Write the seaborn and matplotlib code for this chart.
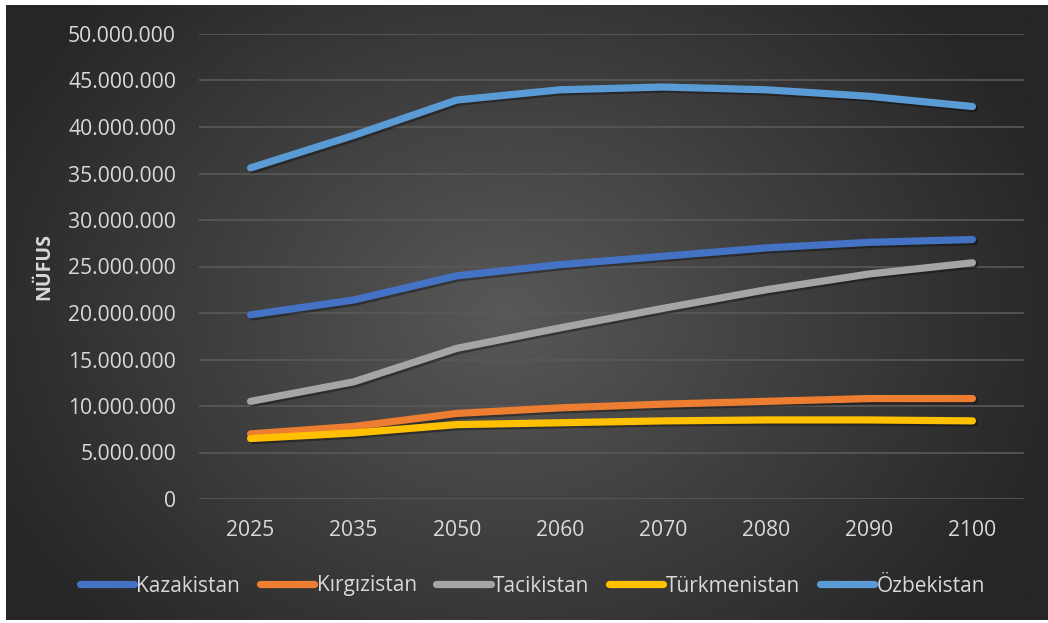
import numpy as np
import pandas as pd
import matplotlib
matplotlib.use("Agg")
import matplotlib.pyplot as plt
import matplotlib.patheffects as pe
from matplotlib.ticker import FuncFormatter
import seaborn as sns

years = ["2025", "2035", "2050", "2060", "2070", "2080", "2090", "2100"]
kazakistan = [19.8e6, 21.4e6, 24.0e6, 25.2e6, 26.1e6, 27.0e6, 27.6e6, 27.9e6]
kirgizistan = [7.0e6, 7.8e6, 9.2e6, 9.8e6, 10.2e6, 10.5e6, 10.8e6, 10.8e6]
tacikistan = [10.5e6, 12.6e6, 16.2e6, 18.4e6, 20.5e6, 22.5e6, 24.2e6, 25.4e6]
turkmenistan = [6.5e6, 7.1e6, 8.0e6, 8.2e6, 8.4e6, 8.5e6, 8.5e6, 8.4e6]
ozbekistan = [35.6e6, 39.1e6, 42.9e6, 44.0e6, 44.3e6, 44.0e6, 43.3e6, 42.2e6]
countries = ["Kazakistan", "Kırgızistan", "Tacikistan", "Türkmenistan", "Özbekistan"]
colors = ["#4472C4", "#ED7D31", "#A5A5A5", "#FFC000", "#5B9BD5"]
y_label = "NÜFUS"

series = [kazakistan, kirgizistan, tacikistan, turkmenistan, ozbekistan]
rows = []
for c, vals in zip(countries, series):
    for i, (yr, v) in enumerate(zip(years, vals)):
        rows.append({"idx": i, "year": yr, "country": c, "value": v})
df = pd.DataFrame(rows)

sns.set_theme(style="white")
plt.rcParams["font.family"] = ["Open Sans", "DejaVu Sans"]

W, H = 1048, 623
fig = plt.figure(figsize=(W / 100, H / 100), dpi=100, facecolor="white")

# background radial gradient
bg = fig.add_axes([6 / W, 3 / H, 1 - 6 / W, 1 - 8 / H])
bg.set_axis_off()
ny, nx = 300, 500
yy, xx = np.mgrid[0:ny, 0:nx]
cx, cy = nx * 0.48, ny * 0.5
r = np.sqrt(((xx - cx) / (nx * 0.55)) ** 2 + ((yy - cy) / (ny * 0.75)) ** 2)
r = np.clip(r, 0, 1)
inner = np.array([0x58, 0x58, 0x58]) / 255
outer = np.array([0x26, 0x26, 0x26]) / 255
img = inner[None, None, :] * (1 - r[..., None]) + outer[None, None, :] * r[..., None]
bg.imshow(img, aspect="auto", extent=[0, 1, 0, 1], interpolation="bilinear")
bg.set_xlim(0, 1)
bg.set_ylim(0, 1)

ax = fig.add_axes([199 / W, 1 - 499 / H, (1024 - 199) / W, (499 - 34) / H])
ax.patch.set_alpha(0)

sns.lineplot(data=df, x="idx", y="value", hue="country", hue_order=countries,
             palette=colors, linewidth=5.2, ax=ax, legend=False, sort=False)
for line in ax.get_lines():
    line.set_solid_capstyle("round")
    line.set_solid_joinstyle("round")
    line.set_path_effects([pe.SimpleLineShadow(offset=(1.5, -1.5), shadow_color="black", alpha=0.35), pe.Normal()])

ax.set_xlim(-0.5, len(years) - 0.5)
ax.set_ylim(0, 50e6)
ax.set_yticks(np.arange(0, 50e6 + 1, 5e6))
ax.yaxis.set_major_formatter(FuncFormatter(lambda v, p: f"{int(v):,}".replace(",", ".")))
ax.set_xticks(range(len(years)))
ax.set_xticklabels(years)
ax.grid(axis="y", color="#595959", linewidth=1.2)
ax.set_axisbelow(True)
for s in ax.spines.values():
    s.set_visible(False)
ax.tick_params(axis="both", length=0, colors="#d9d9d9", labelsize=15.2)
ax.tick_params(axis="y", pad=16.5)
ax.tick_params(axis="x", pad=15)
ax.set_xlabel("")
ax.set_ylabel(y_label, color="#d9d9d9", fontsize=14, fontweight="bold")
ax.yaxis.set_label_coords(-0.176, 0.5)

handles = [plt.Line2D([0], [0], color=c, linewidth=5.2, solid_capstyle="round") for c in colors]
fig.legend(handles, countries, loc="center", bbox_to_anchor=(0.508, 1 - 586 / H), ncol=5,
           frameon=False, fontsize=15, labelcolor="#d9d9d9", handlelength=2.6,
           handletextpad=0.12, columnspacing=0.95)

fig.savefig("out.png", dpi=100, facecolor="white")
